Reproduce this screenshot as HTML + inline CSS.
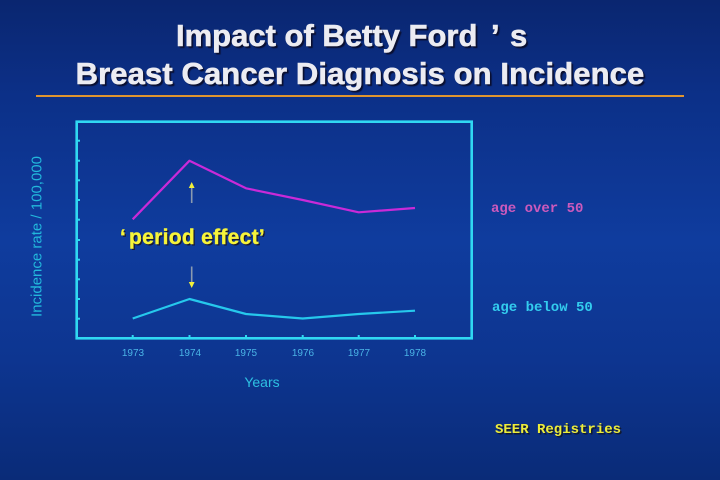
<!DOCTYPE html>
<html>
<head>
<meta charset="utf-8">
<style>
  html, body { margin:0; padding:0; }
  body {
    width:720px; height:480px; overflow:hidden; position:relative;
    background: linear-gradient(to bottom, #0a2670 0%, #0c3088 20%, #0f3c9e 50%, #0d3590 75%, #0a2b78 100%);
    font-family: "Liberation Sans", sans-serif;
  }
  .t {
    position:absolute; color:#ececf2; font-weight:bold; font-size:31px;
    -webkit-text-stroke:0.6px #ececf2;
    text-shadow: 2px 2px 1px #0a0f30, 1px 1px 0 #1a2040;
    white-space:nowrap; line-height:36px;
  }
  .rule {
    position:absolute; left:36px; top:95px; width:648px; height:2px; background:#e0952e;
  }
  .mono {
    position:absolute; font-family:"Liberation Mono", monospace; font-weight:bold; font-size:14px; white-space:nowrap;
  }
</style>
</head>
<body>
  <div class="t" style="top:18px; left:176px;">Impact of Betty Ford</div>
  <div class="t" style="top:18px; left:491px;">’</div>
  <div class="t" style="top:18px; left:510px;">s</div>
  <div class="t" style="top:55.5px; left:0; width:720px; text-align:center; letter-spacing:0.1px;">Breast Cancer Diagnosis on Incidence</div>
  <div class="rule"></div>

  <svg width="720" height="480" style="position:absolute;left:0;top:0" xmlns="http://www.w3.org/2000/svg">
    <rect x="76.7" y="121.7" width="395" height="216.6" fill="none" stroke="#30d8f2" stroke-width="2.6"/>
    <g stroke="#30d8f2" stroke-width="2">
      <line x1="77" y1="140.7" x2="80" y2="140.7"/>
      <line x1="77" y1="160.7" x2="80" y2="160.7"/>
      <line x1="77" y1="180.3" x2="80" y2="180.3"/>
      <line x1="77" y1="200" x2="80" y2="200"/>
      <line x1="77" y1="219.7" x2="80" y2="219.7"/>
      <line x1="77" y1="240" x2="80" y2="240"/>
      <line x1="77" y1="259.7" x2="80" y2="259.7"/>
      <line x1="77" y1="279.3" x2="80" y2="279.3"/>
      <line x1="77" y1="299" x2="80" y2="299"/>
      <line x1="77" y1="318.7" x2="80" y2="318.7"/>
    </g>
    <g stroke="#30d8f2" stroke-width="2">
      <line x1="132.7" y1="335" x2="132.7" y2="338"/>
      <line x1="189.5" y1="335" x2="189.5" y2="338"/>
      <line x1="246" y1="335" x2="246" y2="338"/>
      <line x1="302.7" y1="335" x2="302.7" y2="338"/>
      <line x1="358.7" y1="335" x2="358.7" y2="338"/>
      <line x1="415" y1="335" x2="415" y2="338"/>
    </g>
    <polyline points="132.7,219.3 189.5,160.7 246,188.3 302.7,200 358.7,212.3 415,208" fill="none" stroke="#c92ad8" stroke-width="2.2" stroke-linejoin="round"/>
    <polyline points="132.7,318.5 189.5,299 246,314 302.7,318.5 358.7,314 415,310.7" fill="none" stroke="#26c8ec" stroke-width="2.2" stroke-linejoin="round"/>
    <line x1="191.7" y1="187" x2="191.7" y2="203" stroke="#8a9ab0" stroke-width="1.6"/>
    <polygon points="191.7,182 188.8,188 194.6,188" fill="#f2f03a"/>
    <line x1="191.7" y1="266.5" x2="191.7" y2="283" stroke="#8a9ab0" stroke-width="1.6"/>
    <polygon points="191.7,288 188.8,282 194.6,282" fill="#f2f03a"/>
    <g font-family="Liberation Sans, sans-serif" font-size="10" fill="#4ab4e6" text-anchor="middle">
      <text x="133" y="356">1973</text>
      <text x="190" y="356">1974</text>
      <text x="246" y="356">1975</text>
      <text x="303" y="356">1976</text>
      <text x="359" y="356">1977</text>
      <text x="415" y="356">1978</text>
    </g>
    <text x="262" y="387" font-family="Liberation Sans, sans-serif" font-size="14" fill="#2ec0e2" text-anchor="middle">Years</text>
    <text transform="translate(41.5,236.5) rotate(-90)" font-family="Liberation Sans, sans-serif" font-size="15" fill="#22b8dc" text-anchor="middle">Incidence rate / 100,000</text>
    <g font-family="Liberation Sans, sans-serif" font-weight="bold" font-size="21" letter-spacing="0.3">
      <g fill="#1a1a30" transform="translate(1.5,1.5)">
        <text x="120" y="244">‘</text>
        <text x="129" y="244">period effect’</text>
      </g>
      <g fill="#f6f43a" stroke="#f6f43a" stroke-width="0.4">
        <text x="120" y="244">‘</text>
        <text x="129" y="244">period effect’</text>
      </g>
    </g>
  </svg>

  <div class="mono" style="left:491px; top:201px; color:#cc5abc;">age over 50</div>
  <div class="mono" style="left:492px; top:300px; color:#33ccee;">age below 50</div>
  <div class="mono" style="left:495px; top:422px; color:#ecec3a; text-shadow:1.5px 1.5px 0 #111a30;">SEER Registries</div>
</body>
</html>
